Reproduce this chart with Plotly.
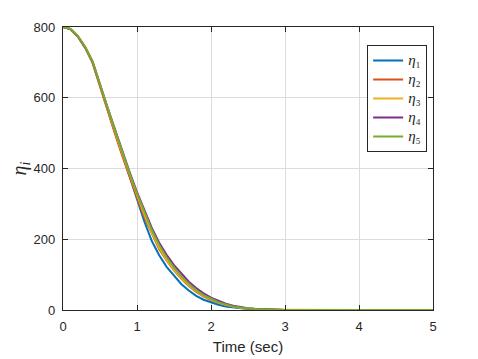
import plotly.graph_objects as go

# 시간 축 (sec)
time = [0.0, 0.1, 0.2, 0.3, 0.4, 0.5, 0.6, 0.7, 0.8, 0.9,
        1.0, 1.1, 1.2, 1.3, 1.4, 1.5, 1.6, 1.7, 1.8, 1.9,
        2.0, 2.1, 2.2, 2.3, 2.4, 2.5, 2.6, 2.7, 2.8, 2.9,
        3.0, 3.5, 4.0, 4.5, 5.0]

eta_1 = [800, 794, 773, 741, 700, 632, 570, 505, 440, 378,
         315, 250, 195, 155, 122, 96, 73, 55, 40, 29,
         21, 15, 10, 7, 4.5, 3, 2, 1.2, 0.8, 0.4,
         0.2, 0, 0, 0, 0]
eta_2 = [800, 794, 773, 741, 698, 630, 566, 500, 436, 375,
         318, 262, 215, 172, 140, 112, 88, 68, 51, 38,
         28, 20, 14, 9, 6, 4, 2.5, 1.5, 1, 0.5,
         0.3, 0, 0, 0, 0]
eta_3 = [800, 794, 773, 742, 700, 633, 570, 506, 443, 383,
         326, 270, 218, 176, 142, 114, 90, 70, 53, 39,
         29, 21, 15, 10, 6.5, 4, 2.5, 1.5, 1, 0.5,
         0.3, 0, 0, 0, 0]
eta_4 = [800, 794, 774, 743, 702, 636, 574, 512, 450, 390,
         333, 280, 232, 190, 156, 127, 102, 80, 62, 47,
         35, 26, 18, 12, 8, 5, 3, 2, 1.2, 0.6,
         0.3, 0, 0, 0, 0]
eta_5 = [800, 795, 775, 744, 703, 636, 574, 510, 447, 387,
         330, 276, 226, 184, 149, 120, 95, 74, 56, 42,
         31, 22, 16, 10, 7, 4.5, 3, 1.8, 1, 0.5,
         0.3, 0, 0, 0, 0]

series = [eta_1, eta_2, eta_3, eta_4, eta_5]
names = ['<span style="font-size:15px"><i>η</i>₁</span>',
         '<span style="font-size:15px"><i>η</i>₂</span>',
         '<span style="font-size:15px"><i>η</i>₃</span>',
         '<span style="font-size:15px"><i>η</i>₄</span>',
         '<span style="font-size:15px"><i>η</i>₅</span>']
colors = ["#0072BD", "#D95319", "#EDB120", "#7E2F8E", "#77AC30"]

fig = go.Figure()
for y, name, c in zip(series, names, colors):
    fig.add_trace(go.Scatter(x=time, y=y, mode="lines", name=name,
                             line=dict(color=c, width=2)))

axis_style = dict(
    showgrid=True, gridcolor="#dcdcdc", gridwidth=1,
    showline=True, linecolor="#262626", linewidth=1.3, mirror="ticks",
    ticks="inside", ticklen=5, tickcolor="#262626",
    zeroline=False, ticklabelstandoff=4, automargin=False,
    tickfont=dict(family="Liberation Sans, Arial", size=13, color="#262626"),
)

fig.update_xaxes(range=[0, 5], dtick=1,
                 title=dict(text="Time (sec)", standoff=8,
                            font=dict(family="Liberation Sans, Arial", size=15, color="#262626")),
                 **axis_style)
fig.update_yaxes(range=[0, 800], dtick=200,
                 title=dict(text="<i>η</i><sub><i>i</i></sub>", standoff=12,
                            font=dict(family="Liberation Serif, Times New Roman", size=20, color="#262626")),
                 **axis_style)

fig.update_layout(
    width=470, height=351,
    margin=dict(l=55, r=45, t=19, b=49),
    plot_bgcolor="white", paper_bgcolor="white",
    showlegend=True,
    legend=dict(x=0.822, y=0.936, xanchor="left", yanchor="top",
                bordercolor="#262626", borderwidth=1, bgcolor="white",
                font=dict(family="Liberation Serif, Times New Roman", size=12, color="#262626"),
                tracegroupgap=0, itemwidth=30),
)

fig.write_html("out.html")
